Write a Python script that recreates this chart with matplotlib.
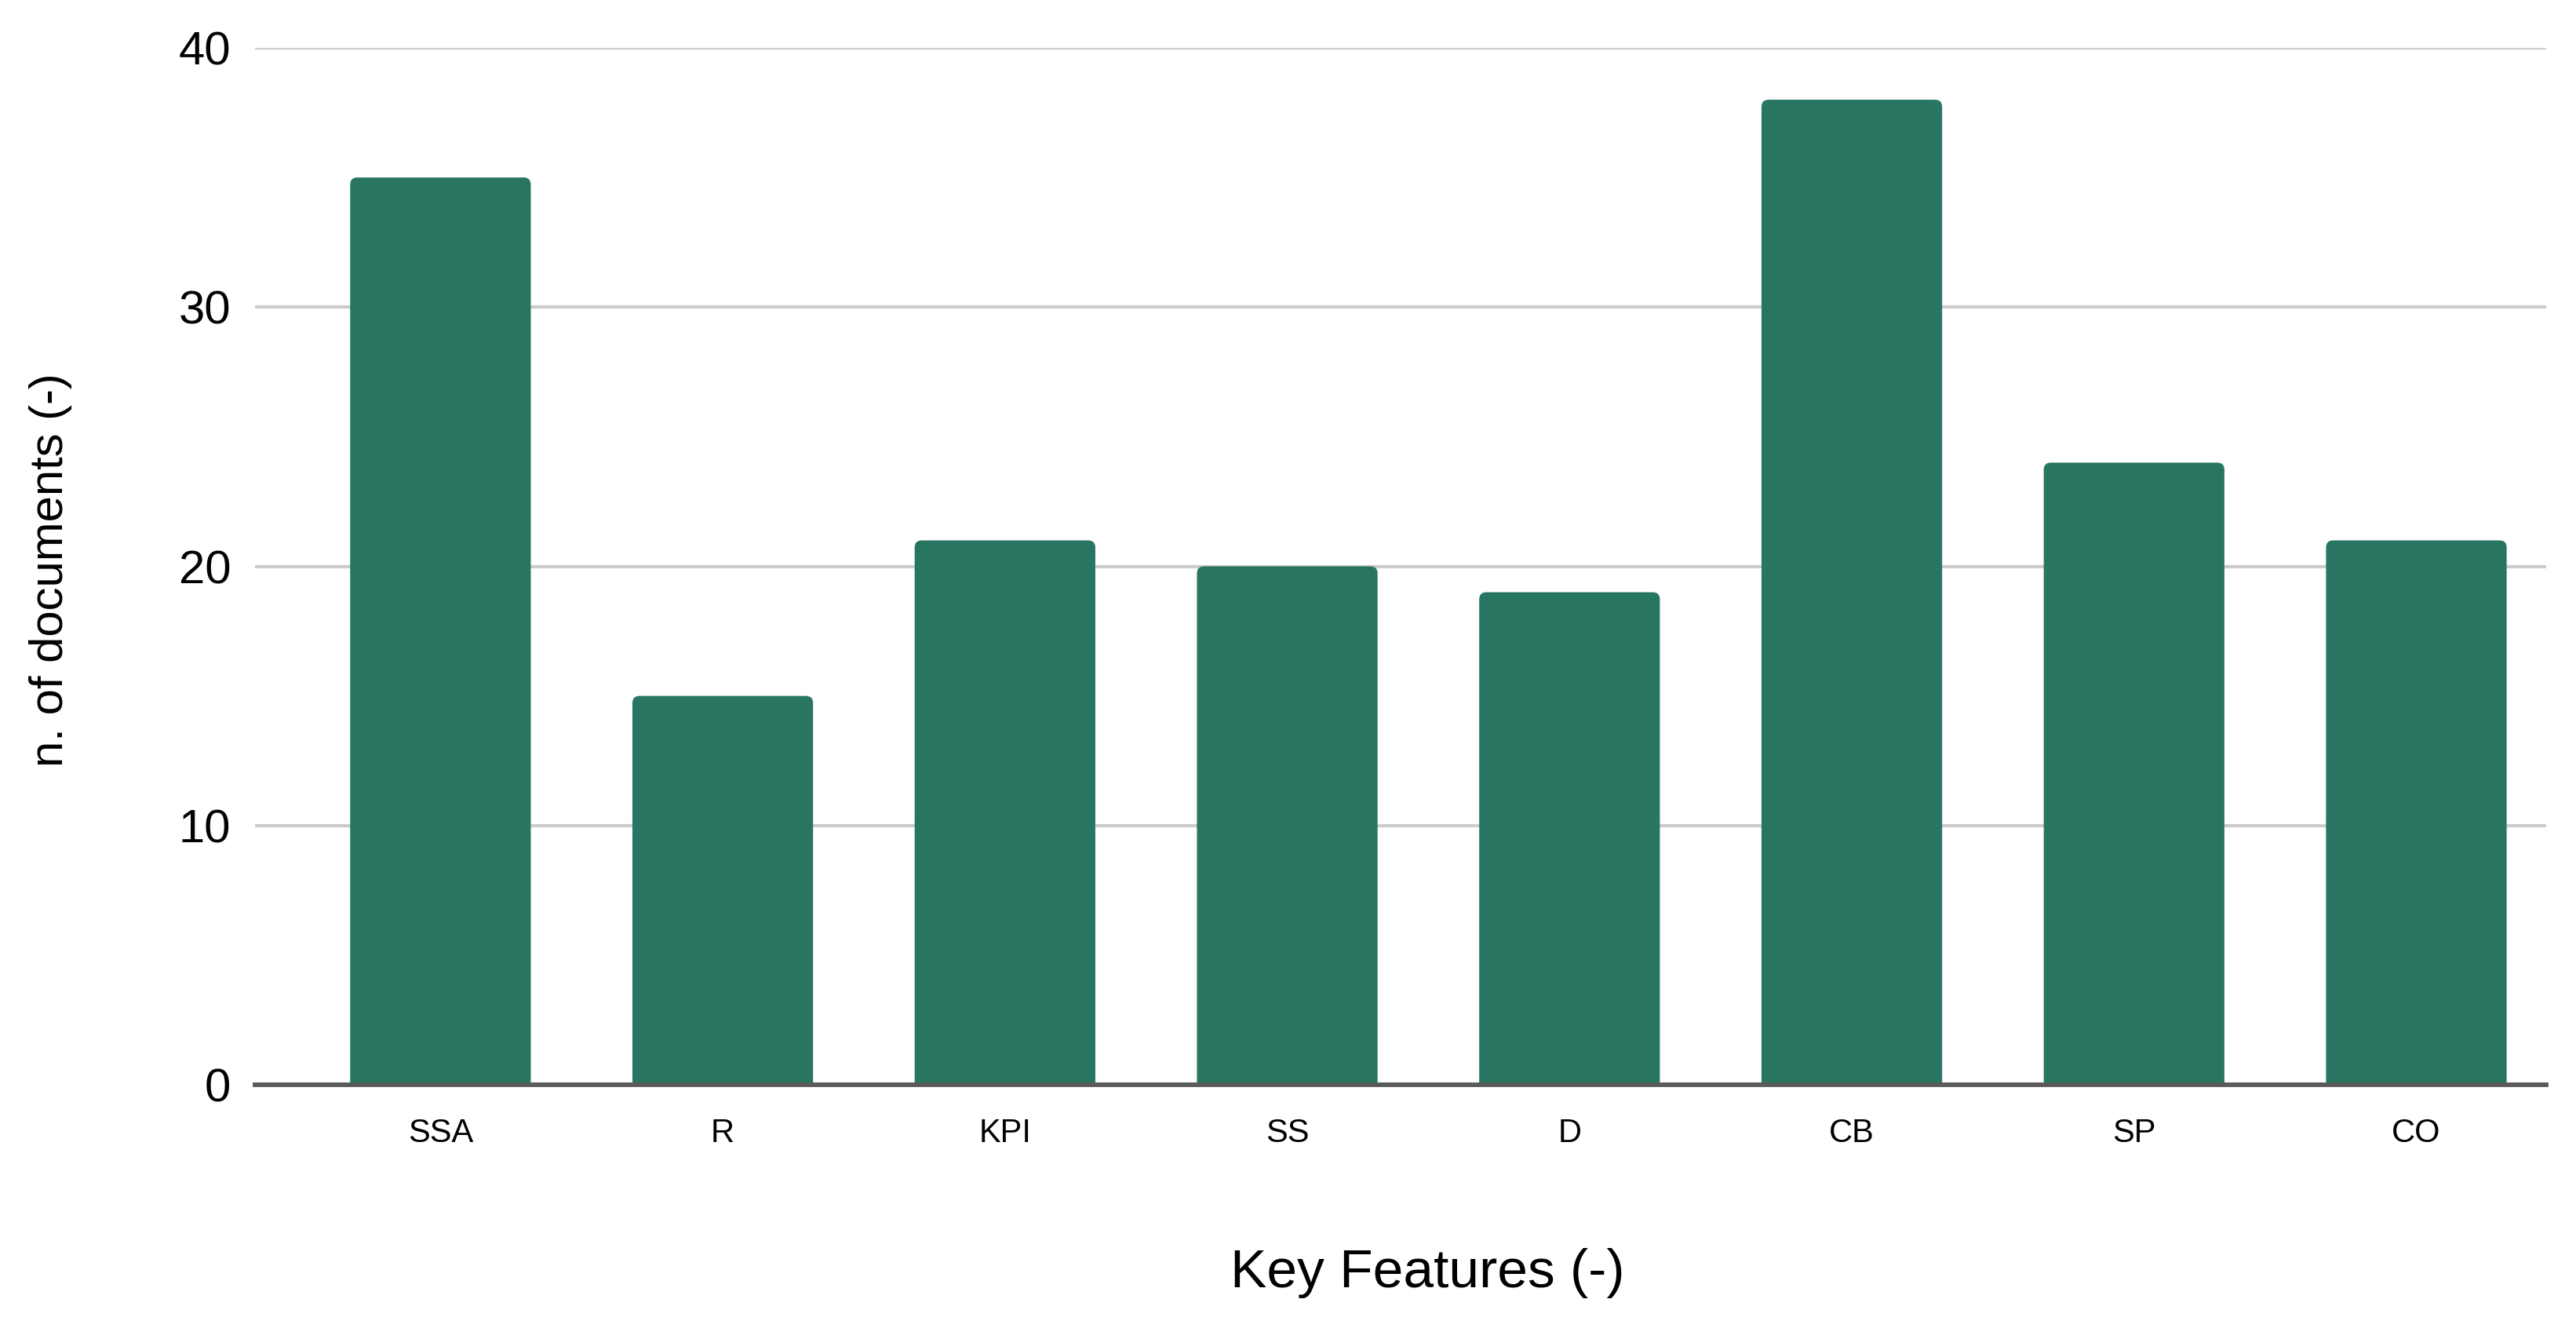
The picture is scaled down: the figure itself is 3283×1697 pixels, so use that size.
import matplotlib
matplotlib.use("Agg")
import matplotlib.pyplot as plt
from matplotlib.patches import FancyBboxPatch

categories = ["SSA", "R", "KPI", "SS", "D", "CB", "SP", "CO"]
values = [35, 15, 21, 20, 19, 38, 24, 21]
yticks = [0, 10, 20, 30, 40]

plt.rcParams["font.family"] = ["Liberation Sans", "DejaVu Sans"]

W, H, DPI = 3283, 1697, 100
fig = plt.figure(figsize=(W / DPI, H / DPI), dpi=DPI)
left, right = 325 / W, 3245 / W
bottom, top = 1 - 1382 / H, 1 - 61 / H
ax = fig.add_axes([left, bottom, right - left, top - bottom])

color = "#287662"
x = list(range(len(categories)))
bars = ax.bar(x, values, width=0.64, color=color, linewidth=0, zorder=3)

ax.set_xlim(-0.657, 7.46)
ax.set_ylim(0, 40)

# rounded top corners: replace each bar by a rounded box built from the bar's own geometry
fig.canvas.draw()
trans = ax.transData
for b in bars:
    x0, y0 = b.get_x(), b.get_y()
    w, h = b.get_width(), b.get_height()
    (px0, py0) = trans.transform((x0, y0))
    (px1, py1) = trans.transform((x0 + w, y0 + h))
    r = 9
    patch = FancyBboxPatch((px0 + r, py0 - 40), (px1 - px0) - 2 * r, (py1 - py0) + 40 - r,
                           boxstyle=f"round,pad={r}", transform=None,
                           facecolor=color, edgecolor="none", zorder=3,
                           clip_on=True)
    patch.set_clip_box(ax.bbox)
    ax.add_artist(patch)
    b.set_visible(False)

ax.set_yticks(yticks)
ax.set_yticklabels([str(v) for v in yticks])
ax.set_xticks(x)
ax.set_xticklabels(categories)
ax.grid(axis="y", color="#cccccc", linewidth=3.0, zorder=0)
ax.set_axisbelow(True)
for s in ["top", "right", "left"]:
    ax.spines[s].set_visible(False)
ax.spines["bottom"].set_color("#5a5a5a")
ax.spines["bottom"].set_linewidth(4.2)
ax.spines["bottom"].set_zorder(4)
ax.tick_params(axis="both", length=0)
ax.tick_params(axis="y", labelsize=43, pad=22)
ax.tick_params(axis="x", labelsize=30, pad=30)

fig.text(65 / W, 1 - 726 / H, "n. of documents (-)", rotation=90,
         ha="center", va="center", fontsize=43)
fig.text(1819 / W, 1 - 1622 / H, "Key Features (-)", ha="center",
         va="center", fontsize=50)

fig.savefig("out.png", dpi=DPI, facecolor="white")
